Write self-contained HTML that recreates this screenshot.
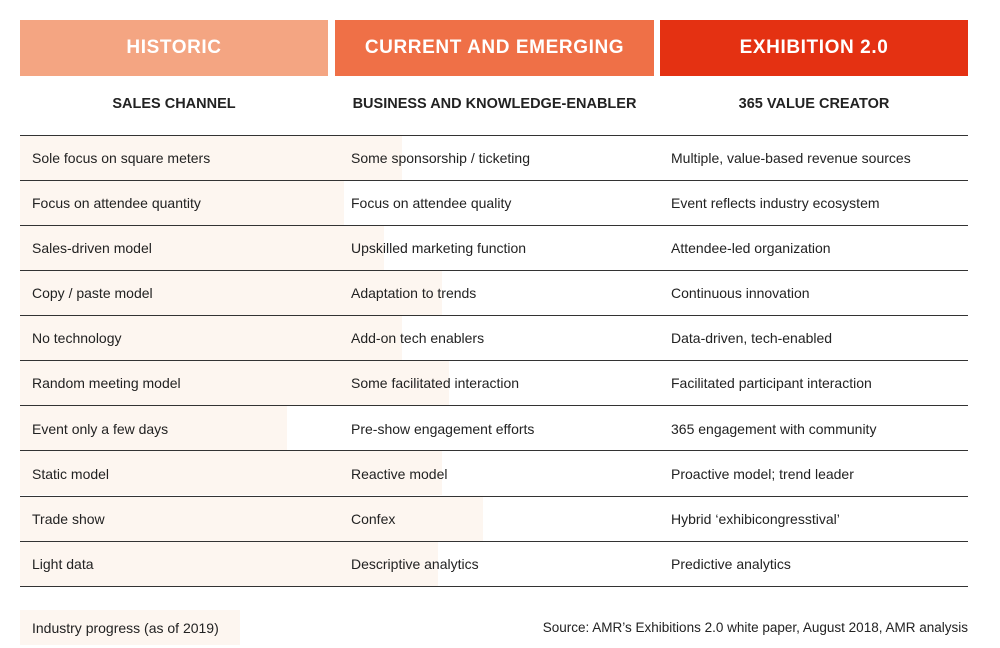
<!DOCTYPE html>
<html><head><meta charset="utf-8"><style>
body{margin:0;width:1000px;height:648px;background:#fff;font-family:"Liberation Sans",sans-serif;color:#222;position:relative;overflow:hidden}
.h{position:absolute;top:20px;height:56px;color:#fff;font-weight:bold;font-size:19px;display:flex;align-items:center;justify-content:center;letter-spacing:0.6px}
.s{position:absolute;top:96px;font-weight:bold;font-size:14.5px;color:#222;text-align:center}
.line{position:absolute;left:20px;width:948px;height:1px;background:#333}
.bar{position:absolute;left:20px;height:44px;background:#fdf6f0}
.t{position:absolute;font-size:14px;line-height:16px;color:#222}
</style></head><body>
<div class="h" style="left:20px;width:308px;background:#f4a582"><span>HISTORIC</span></div>
<div class="h" style="left:335px;width:319px;background:#ef7047"><span>CURRENT AND EMERGING</span></div>
<div class="h" style="left:660px;width:308px;background:#e43112"><span>EXHIBITION 2.0</span></div>
<div class="s" style="left:20px;width:308px"><span>SALES CHANNEL</span></div>
<div class="s" style="left:335px;width:319px"><span>BUSINESS AND KNOWLEDGE-ENABLER</span></div>
<div class="s" style="left:660px;width:308px"><span>365 VALUE CREATOR</span></div>

<div class="bar" style="top:136px;width:382px"></div>
<div class="bar" style="top:181px;width:324px"></div>
<div class="bar" style="top:226px;width:364px"></div>
<div class="bar" style="top:271px;width:422px"></div>
<div class="bar" style="top:316px;width:382px"></div>
<div class="bar" style="top:361px;width:429px"></div>
<div class="bar" style="top:406px;width:267px"></div>
<div class="bar" style="top:451px;width:422px"></div>
<div class="bar" style="top:497px;width:463px"></div>
<div class="bar" style="top:542px;width:418px"></div>

<div class="line" style="top:135px"></div>
<div class="line" style="top:180px"></div>
<div class="line" style="top:225px"></div>
<div class="line" style="top:270px"></div>
<div class="line" style="top:315px"></div>
<div class="line" style="top:360px"></div>
<div class="line" style="top:405px"></div>
<div class="line" style="top:450px"></div>
<div class="line" style="top:496px"></div>
<div class="line" style="top:541px"></div>
<div class="line" style="top:586px"></div>

<div class="t" style="left:32px;top:150px">Sole focus on square meters</div>
<div class="t" style="left:351px;top:150px">Some sponsorship / ticketing</div>
<div class="t" style="left:671px;top:150px">Multiple, value-based revenue sources</div>
<div class="t" style="left:32px;top:195px">Focus on attendee quantity</div>
<div class="t" style="left:351px;top:195px">Focus on attendee quality</div>
<div class="t" style="left:671px;top:195px">Event reflects industry ecosystem</div>
<div class="t" style="left:32px;top:240px">Sales-driven model</div>
<div class="t" style="left:351px;top:240px">Upskilled marketing function</div>
<div class="t" style="left:671px;top:240px">Attendee-led organization</div>
<div class="t" style="left:32px;top:285px">Copy / paste model</div>
<div class="t" style="left:351px;top:285px">Adaptation to trends</div>
<div class="t" style="left:671px;top:285px">Continuous innovation</div>
<div class="t" style="left:32px;top:330px">No technology</div>
<div class="t" style="left:351px;top:330px">Add-on tech enablers</div>
<div class="t" style="left:671px;top:330px">Data-driven, tech-enabled</div>
<div class="t" style="left:32px;top:375px">Random meeting model</div>
<div class="t" style="left:351px;top:375px">Some facilitated interaction</div>
<div class="t" style="left:671px;top:375px">Facilitated participant interaction</div>
<div class="t" style="left:32px;top:421px">Event only a few days</div>
<div class="t" style="left:351px;top:421px">Pre-show engagement efforts</div>
<div class="t" style="left:671px;top:421px">365 engagement with community</div>
<div class="t" style="left:32px;top:466px">Static model</div>
<div class="t" style="left:351px;top:466px">Reactive model</div>
<div class="t" style="left:671px;top:466px">Proactive model; trend leader</div>
<div class="t" style="left:32px;top:511px">Trade show</div>
<div class="t" style="left:351px;top:511px">Confex</div>
<div class="t" style="left:671px;top:511px">Hybrid ‘exhibicongresstival’</div>
<div class="t" style="left:32px;top:556px">Light data</div>
<div class="t" style="left:351px;top:556px">Descriptive analytics</div>
<div class="t" style="left:671px;top:556px">Predictive analytics</div>

<div style="position:absolute;left:20px;top:610px;width:220px;height:35px;background:#fdf6f0"></div>
<div class="t" style="left:32px;top:620px">Industry progress (as of 2019)</div>
<div class="t" style="right:32px;top:620px;font-size:13.5px">Source: AMR’s Exhibitions 2.0 white paper, August 2018, AMR analysis</div>
</body></html>
